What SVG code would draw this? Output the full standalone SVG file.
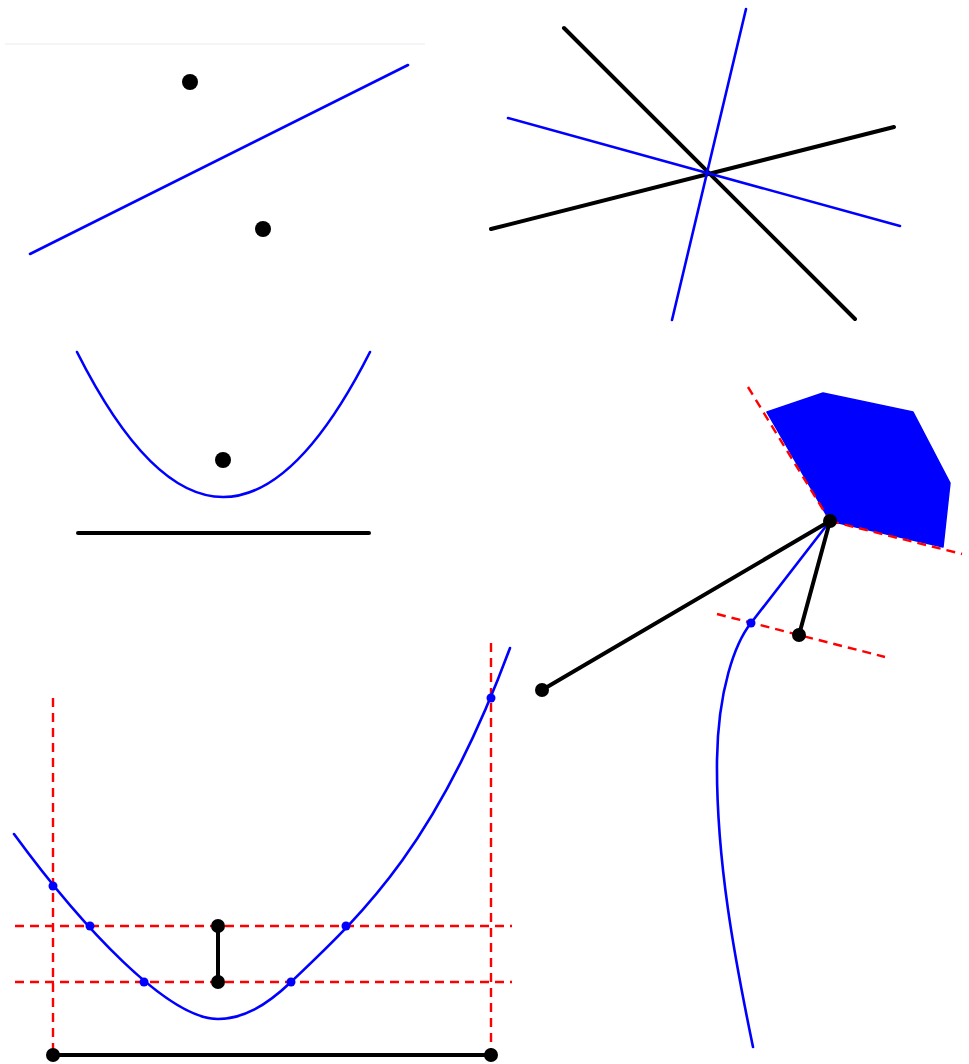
<svg xmlns="http://www.w3.org/2000/svg" width="969" height="1064" viewBox="0 0 969 1064">
<style>
.blue{fill:none;stroke:#0000ff;stroke-width:2.6;stroke-linecap:round}
.blk{fill:none;stroke:#000;stroke-width:4;stroke-linecap:round}
.red{fill:none;stroke:#ff0000;stroke-width:2.4;stroke-dasharray:9 6}
.dot{fill:#000}
.bdot{fill:#0000ff}
</style>
<rect width="969" height="1064" fill="#fff"/>
<g id="panel1">
<line x1="5" y1="44" x2="425" y2="44" stroke="#f5f5f5" stroke-width="2"/>
<line class="blue" x1="30" y1="254" x2="408" y2="65" stroke-width="3"/>
<circle class="dot" cx="190" cy="82" r="8"/>
<circle class="dot" cx="263" cy="229" r="8"/>
</g>
<g id="panel2">
<line class="blk" x1="564" y1="28" x2="855" y2="319"/>
<line class="blk" x1="491" y1="229" x2="894" y2="127"/>
<line class="blue" x1="746" y1="9" x2="672" y2="320"/>
<line class="blue" x1="508" y1="118" x2="900" y2="226"/>
</g>
<g id="panel3">
<path class="blue" stroke-width="3" d="M77,352 Q223,642 370,352"/>
<circle class="dot" cx="223" cy="460" r="8"/>
<line class="blk" x1="78" y1="533" x2="369" y2="533" stroke-width="4.5" stroke-linecap="butt"/>
</g>
<g id="panel4">
<polygon fill="#0000ff" stroke="#0000ff" stroke-width="1.5" stroke-linejoin="round" points="767,412 823,393 913,412 950,483 943,547 830,521"/>
<line class="red" x1="748" y1="387" x2="830" y2="521"/>
<line class="red" x1="830" y1="521" x2="962" y2="554"/>
<line class="red" x1="717" y1="614" x2="885" y2="657"/>
<path class="blue" d="M830,521 L751,623 C735,643 718,690 717,760 C716,860 735,960 753,1047"/>
<line class="blk" x1="830" y1="521" x2="542" y2="690"/>
<line class="blk" x1="830" y1="521" x2="799" y2="635"/>
<circle class="dot" cx="830" cy="521" r="7"/>
<circle class="dot" cx="799" cy="635" r="7"/>
<circle class="dot" cx="542" cy="690" r="7"/>
<circle class="bdot" cx="751" cy="623" r="4.5"/>
</g>
<g id="panel5">
<line class="red" x1="53" y1="698" x2="53" y2="1054"/>
<line class="red" x1="491" y1="643" x2="491" y2="1054"/>
<line class="red" x1="15" y1="926" x2="512" y2="926"/>
<line class="red" x1="15" y1="982" x2="512" y2="982"/>
<path class="blue" d="M14,834 C82,927 168,1019 218,1019 C243,1019 266,1005.8 291,982 C364,912.6 437,845 510,648"/>
<line class="blk" x1="218" y1="926" x2="218" y2="982"/>
<line class="blk" x1="53" y1="1055" x2="491" y2="1055"/>
<circle class="dot" cx="218" cy="926" r="7"/>
<circle class="dot" cx="218" cy="982" r="7"/>
<circle class="dot" cx="53" cy="1055" r="7"/>
<circle class="dot" cx="491" cy="1055" r="7"/>
<circle class="bdot" cx="53" cy="886" r="4.5"/>
<circle class="bdot" cx="90" cy="926" r="4.5"/>
<circle class="bdot" cx="144" cy="982" r="4.5"/>
<circle class="bdot" cx="291" cy="982" r="4.5"/>
<circle class="bdot" cx="346" cy="926" r="4.5"/>
<circle class="bdot" cx="491" cy="698" r="4.5"/>
</g>
</svg>
